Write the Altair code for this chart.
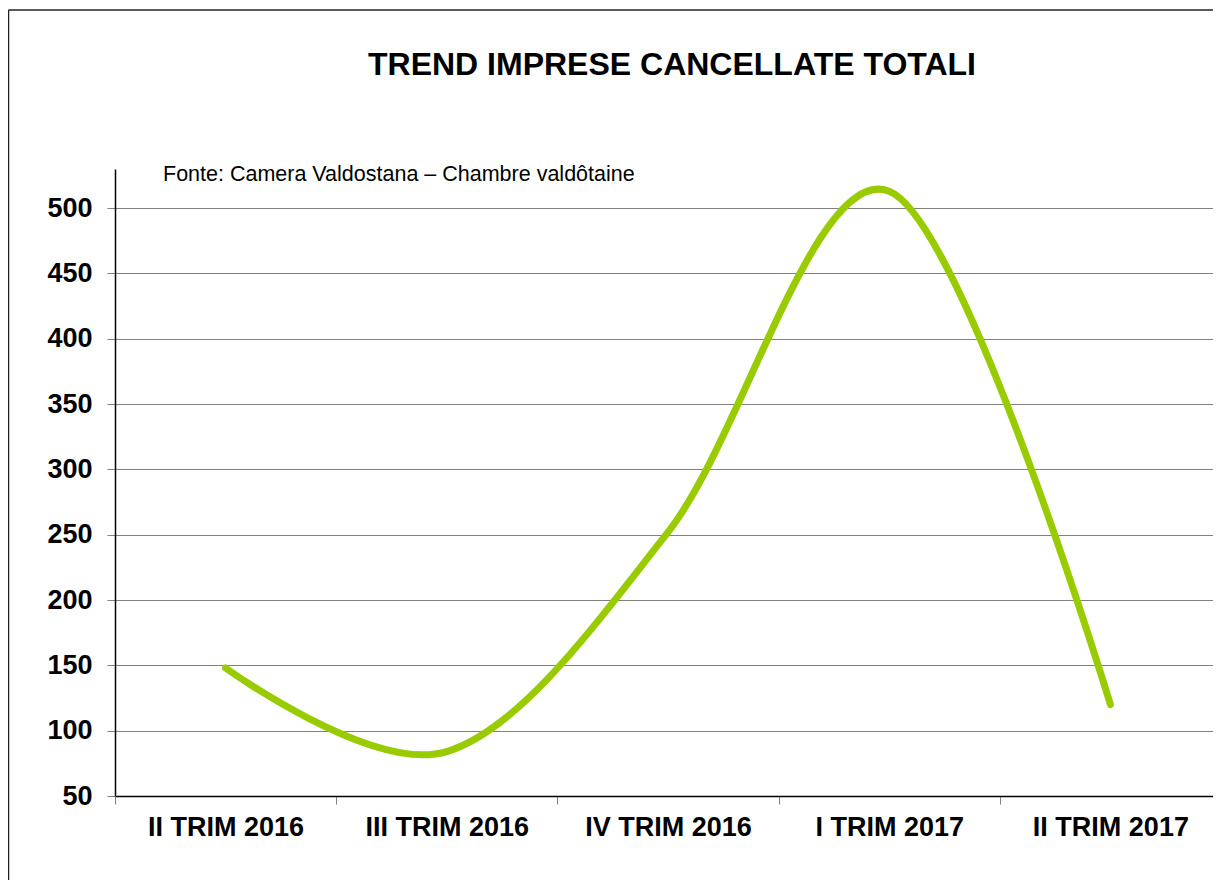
import altair as alt
import pandas as pd

categories = ["II TRIM 2016", "III TRIM 2016", "IV TRIM 2016", "I TRIM 2017", "II TRIM 2017"]
values = [148, 84, 252, 513, 120]
y_ticks = [50, 100, 150, 200, 250, 300, 350, 400, 450, 500]
title_text = "TREND IMPRESE CANCELLATE TOTALI"
source_text = "Fonte: Camera Valdostana \u2013 Chambre valdôtaine"

df = pd.DataFrame({"trimestre": categories, "valore": values})

FONT = "Liberation Sans"
W, H = 1106, 627

x_enc = alt.X(
    "trimestre:N",
    sort=categories,
    scale=alt.Scale(type="band", paddingInner=0, paddingOuter=0),
    bandPosition=0.5,
    axis=alt.Axis(
        title=None,
        labelAngle=0,
        labelFont=FONT,
        labelFontSize=27,
        labelFontWeight="bold",
        labelColor="black",
        labelPadding=10,
        tickBand="extent",
        tickColor="#808080",
        tickSize=8,
        domainColor="black",
        domainWidth=1.5,
        grid=False,
    ),
)

y_enc = alt.Y(
    "valore:Q",
    scale=alt.Scale(domain=[50, 530], nice=False, zero=False),
    axis=alt.Axis(
        title=None,
        values=y_ticks,
        labelFont=FONT,
        labelFontSize=27,
        labelFontWeight="bold",
        labelColor="black",
        labelPadding=15,
        tickColor="#808080",
        tickSize=8,
        domainColor="black",
        domainWidth=1.5,
        grid=True,
        gridColor="#808080",
        gridWidth=1,
    ),
)

line = alt.Chart(df).mark_line(
    color="#99CC00", strokeWidth=7, interpolate="cardinal", strokeCap="round"
).encode(x=x_enc, y=y_enc)

one = pd.DataFrame({"k": [0]})

source = alt.Chart(one).mark_text(
    text=source_text, font=FONT, fontSize=21.5, align="left", baseline="alphabetic", color="black"
).encode(x=alt.value(48), y=alt.value(12))

border_left = alt.Chart(one).mark_rule(color="#222222", strokeWidth=1.5).encode(
    x=alt.value(-106.5), y=alt.value(-159), y2=alt.value(740)
)
border_top = alt.Chart(one).mark_rule(color="#222222", strokeWidth=1.5).encode(
    x=alt.value(-106.5), x2=alt.value(W), y=alt.value(-159)
)

title_mark = alt.Chart(one).mark_text(
    text=title_text, font=FONT, fontSize=32, fontWeight="bold", align="center",
    baseline="alphabetic", color="black"
).encode(x=alt.value(557), y=alt.value(-94))

chart = alt.layer(border_left, border_top, line, source, title_mark).properties(
    width=W,
    height=H,
    autosize=alt.AutoSizeParams(type="none"),
    padding={"left": 107, "top": 161, "right": -8, "bottom": 84},
    background="white",
).configure_view(stroke=None)

chart.save("out.html", embed_options={"renderer": "svg", "actions": False})
